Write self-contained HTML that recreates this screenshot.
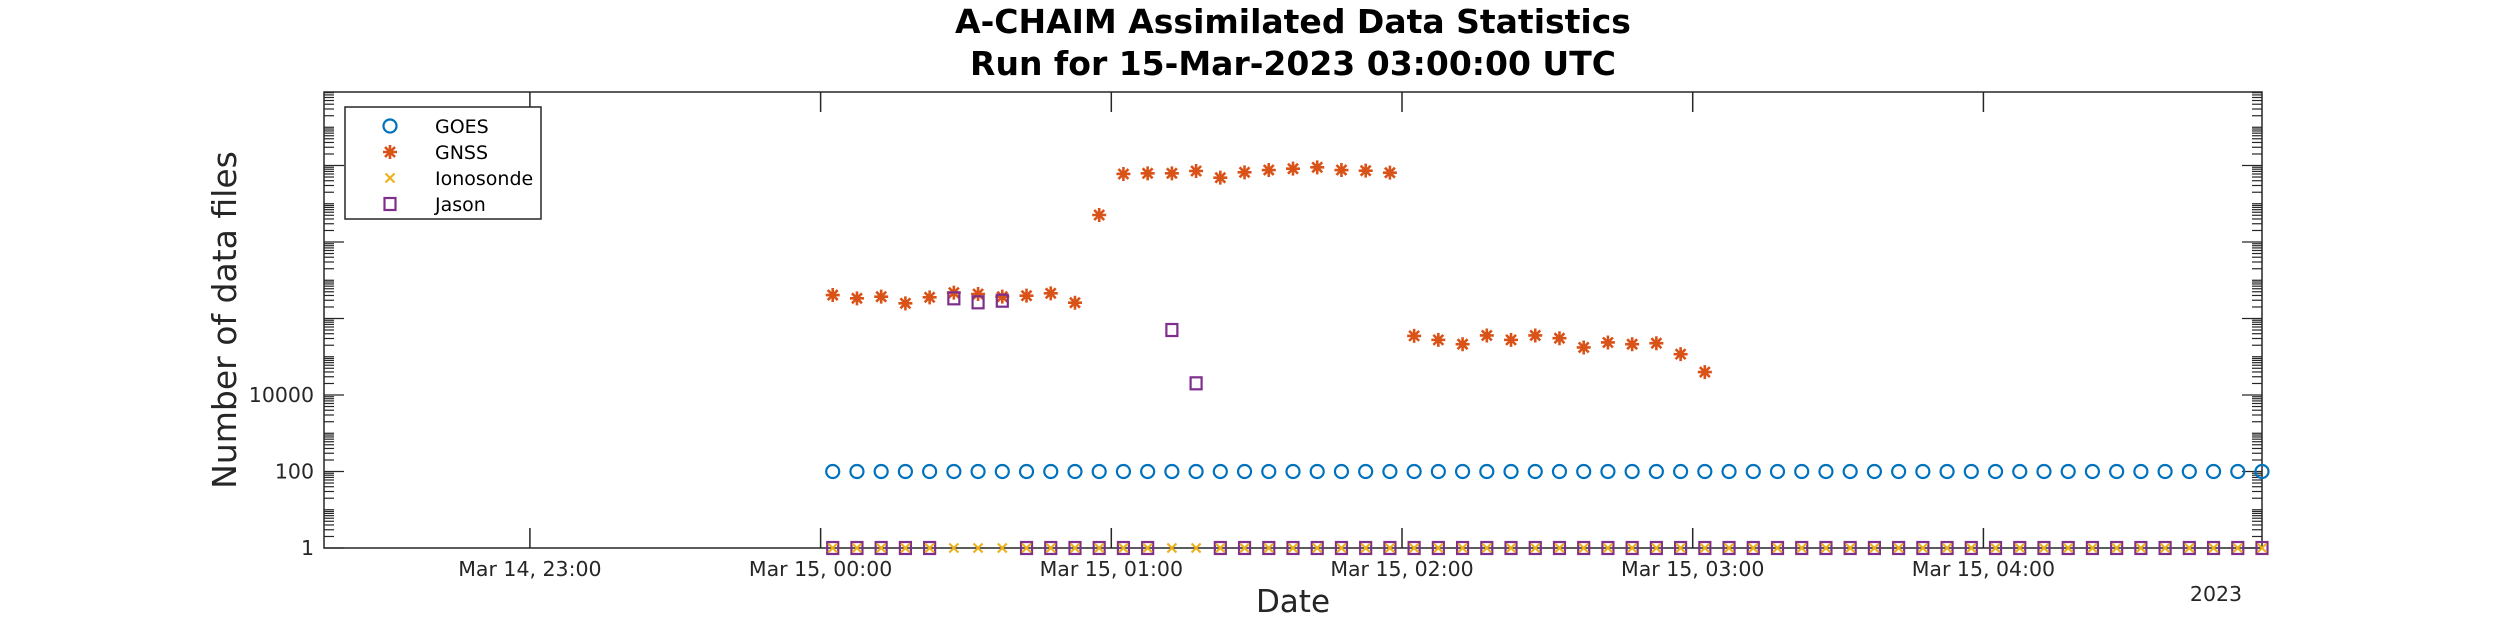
<!DOCTYPE html>
<html><head><meta charset="utf-8"><style>
html,body{margin:0;padding:0;background:#fff;}
svg{display:block;font-family:"DejaVu Sans","Liberation Sans",sans-serif;}
</style></head><body>
<svg id="chart" width="2500" height="625" viewBox="0 0 2500 625" xmlns="http://www.w3.org/2000/svg">
<text x="1293" y="33" text-anchor="middle" font-size="33" font-weight="bold" fill="#000">A-CHAIM Assimilated Data Statistics</text>
<text x="1293" y="75" text-anchor="middle" font-size="33" font-weight="bold" fill="#000">Run for 15-Mar-2023 03:00:00 UTC</text>
<text x="1293" y="612" text-anchor="middle" font-size="31" fill="#262626">Date</text>
<text x="2216" y="601" text-anchor="middle" font-size="20.5" fill="#262626">2023</text>
<text transform="translate(236,320) rotate(-90)" text-anchor="middle" font-size="33" fill="#262626">Number of data files</text>
<g id="axes"></g>
<g id="marks"></g>
<g id="legend">
<rect x="345" y="107" width="196" height="112" fill="#fff" stroke="#262626" stroke-width="1.5"/>
</g>
</svg>
<script>
// ---- data ----
const startMinutes = 2.5;   // minutes after Mar 15 00:00 of first sample
const stepMinutes = 5;
const goesValues = Array(60).fill(100);
const gnssValues = [4.11e6,3.37e6,3.72e6,2.49e6,3.58e6,4.73e6,4.37e6,3.72e6,3.95e6,4.55e6,2.59e6,
 5.08e8,6.0e9,6.24e9,6.24e9,7.18e9,4.81e9,6.62e9,7.62e9,8.26e9,8.96e9,7.62e9,7.33e9,6.50e9,
 351000,276000,213000,360000,276000,360000,305000,175000,236000,213000,226000,117000,39700];
const ionosondeValues = Array(60).fill(1);
const jasonValues = [1,1,1,1,1,3.37e6,2.65e6,2.92e6,1,1,1,1,1,1,5.0e5,2.02e4].concat(Array(44).fill(1));
const xTickHours = [-1,0,1,2,3,4];
const xTickLabels = ["Mar 14, 23:00","Mar 15, 00:00","Mar 15, 01:00","Mar 15, 02:00","Mar 15, 03:00","Mar 15, 04:00"];
const yTickValues = [1,100,10000,1e6,1e8,1e10];
const yTickLabels = ["1","100","10000","","",""];

// ---- axes ----
const L=324,R=2262,T=92,B=548;
const xMinH=-(1+42.5/60), xMaxH=4+57.5/60;
const yMinLog=0, yMaxLog=(B-T)/38.25;
const xs=h=>L+(h-xMinH)/(xMaxH-xMinH)*(R-L);
const ys=v=>B-(Math.log10(v)-yMinLog)/(yMaxLog-yMinLog)*(B-T);
const NS="http://www.w3.org/2000/svg";
function mk(tag,attrs,parent){const e=document.createElementNS(NS,tag);for(const k in attrs)e.setAttribute(k,attrs[k]);parent.appendChild(e);return e;}
const axes=document.getElementById('axes'), marks=document.getElementById('marks');
const frame=mk('rect',{x:L,y:T,width:R-L,height:B-T,fill:'none',stroke:'#262626','stroke-width':1.5},axes);


xTickHours.forEach((h,i)=>{
  const x=xs(h);
  const t1=mk('line',{x1:x,x2:x,y1:B,y2:B-20,stroke:'#262626','stroke-width':1.5},axes);
  
  
  const t2=mk('line',{x1:x,x2:x,y1:T,y2:T+20,stroke:'#262626','stroke-width':1.5},axes);
  
  
  const lb=mk('text',{x:x,y:576,'text-anchor':'middle','font-size':20.5,fill:'#262626'},axes);
  lb.textContent=xTickLabels[i];
  
  
});
for(let d=0;d<12;d++){for(let k=1;k<10;k++){
  const v=k*Math.pow(10,d);const y=ys(v);if(y<T-0.5)continue;
  const major=(k===1&&d%2===0);const len=major?20:10;
  const a=mk('line',{x1:L,x2:L+len,y1:y,y2:y,stroke:'#262626','stroke-width':1.2},axes);
  
  
  const b=mk('line',{x1:R,x2:R-len,y1:y,y2:y,stroke:'#262626','stroke-width':1.2},axes);
  
  
}}
yTickValues.forEach((v,i)=>{
  if(!yTickLabels[i])return;
  const t=mk('text',{x:314,y:ys(v)+7,'text-anchor':'end','font-size':20.5,fill:'#262626'},axes);
  t.textContent=yTickLabels[i];
  
  
});
// ---- markers ----
const C={goes:'#0072BD',gnss:'#D95319',iono:'#EDB120',jason:'#7E2F8E'};
function marker(type,x,y,g){
  if(type==='goes'){return mk('circle',{cx:x,cy:y,r:6.5,fill:'none',stroke:C.goes,'stroke-width':2.2},g);}
  if(type==='gnss'){const s=7,d=5;return mk('path',{d:`M${x-s} ${y}H${x+s}M${x} ${y-s}V${y+s}M${x-d} ${y-d}L${x+d} ${y+d}M${x-d} ${y+d}L${x+d} ${y-d}`,stroke:C.gnss,'stroke-width':2.6,fill:'none'},g);}
  if(type==='iono'){const d=4.5;return mk('path',{d:`M${x-d} ${y-d}L${x+d} ${y+d}M${x-d} ${y+d}L${x+d} ${y-d}`,stroke:C.iono,'stroke-width':2.2,fill:'none'},g);}
  return mk('rect',{x:x-5.5,y:y-6,width:11,height:12,fill:'none',stroke:C.jason,'stroke-width':2.2},g);
}
const tH=i=>(startMinutes+i*stepMinutes)/60;
const series=[['goes',goesValues],['gnss',gnssValues],['jason',jasonValues],['iono',ionosondeValues]];
series.forEach(([type,vals])=>{
  vals.forEach((v,i)=>{
    const m=marker(type,xs(tH(i)),ys(v),marks);
    
    
  });
});
// ---- legend ----
const lg=document.getElementById('legend');
const legendItems=[['goes','GOES'],['gnss','GNSS'],['iono','Ionosonde'],['jason','Jason']];
legendItems.forEach(([type,label],i)=>{
  const y=126+i*26;
  const m=marker(type,390,y,lg);
  
  
  const t=mk('text',{x:435,y:y+7,'font-size':19,fill:'#000'},lg);
  t.textContent=label;
  
  
});
</script>
</body></html>
